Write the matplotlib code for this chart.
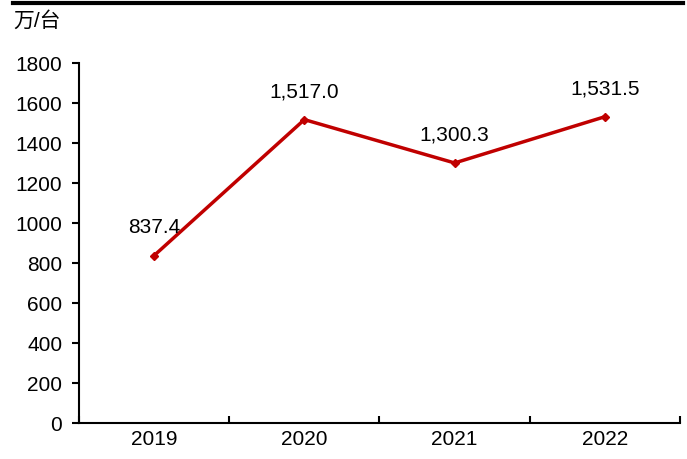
import matplotlib.pyplot as plt
from matplotlib.lines import Line2D

plt.rcParams['font.family'] = ['Liberation Sans', 'Noto Sans CJK SC', 'DejaVu Sans']

years = ['2019', '2020', '2021', '2022']
output = [837.4, 1517.0, 1300.3, 1531.5]
yticks = list(range(0, 1801, 200))

fig = plt.figure(figsize=(6.87, 4.59), dpi=100)
ax = fig.add_axes([0.115, 0.0784, 0.8748, 0.7843])

x = list(range(len(years)))
ax.plot(x, output, color='#C00000', lw=2.5, marker='D', ms=4.5, zorder=3)
for xi, v in zip(x, output):
    ax.annotate(f'{v:,.1f}', (xi, v), xytext=(0, 20), textcoords='offset points',
                ha='center', va='center', fontsize=15)

ax.set_xlim(-0.5, len(years) - 0.5)
ax.set_ylim(0, 1800)
ax.set_yticks(yticks)
ax.tick_params(axis='y', labelsize=15, direction='out', length=5, width=1.5, pad=7)

# category boundaries as inward ticks, year labels centered between them
ax.set_xticks([i - 0.5 for i in range(len(years) + 1)])
ax.set_xticklabels([])
ax.set_xticks(x, minor=True)
ax.set_xticklabels(years, minor=True)
ax.tick_params(axis='x', which='major', direction='in', length=5, width=1.5)
ax.tick_params(axis='x', which='minor', length=0, labelsize=15, pad=5)

for side in ['top', 'right']:
    ax.spines[side].set_visible(False)
for side in ['left', 'bottom']:
    ax.spines[side].set_linewidth(1.5)

fig.text(0.019, 0.955, '万/台', fontsize=15, ha='left', va='center')
fig.add_artist(Line2D([0.019, 0.994], [0.993, 0.993], color='black', lw=3,
                      transform=fig.transFigure))

fig.savefig('out.png', dpi=100)
